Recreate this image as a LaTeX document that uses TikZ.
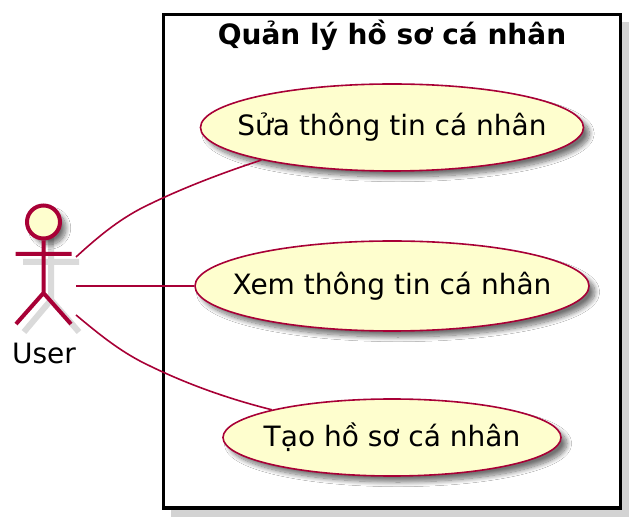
\documentclass[tikz,border=0pt]{standalone}
\usepackage{fontspec}
\setmainfont{DejaVu Sans}
\usetikzlibrary{shapes.geometric,shadows.blur}
\definecolor{umlred}{HTML}{A80036}
\definecolor{umlfill}{HTML}{FEFECE}
\definecolor{umlshadow}{HTML}{D3D3D3}
\newcommand{\casetext}[1]{\makebox[0pt]{\raisebox{2.2pt}{#1}}}
\tikzset{
  x=0.75pt,y=-0.75pt,
  softshadow/.style={blur shadow={shadow xshift=4.5pt,shadow yshift=-4.5pt,shadow blur radius=3.5pt,shadow blur steps=12,shadow opacity=55}},
  usecase/.style={ellipse,draw=umlred,line width=1.2pt,fill=umlfill,inner sep=0pt,font=\fontsize{21}{24}\selectfont,softshadow},
  link/.style={draw=umlred,line width=1.2pt},
  stick/.style={draw=umlred,line width=3pt},
  stickshadow/.style={draw=umlshadow!85!white,line width=4.5pt},
  boxframe/.style={draw=black,line width=2.3pt,fill=white},
  boxshadow/.style={fill=umlshadow,draw=none},
  lab/.style={font=\fontsize{21}{24}\selectfont,inner sep=0pt},
  titlelab/.style={font=\fontsize{21}{24}\selectfont\bfseries,inner sep=0pt},
}
\begin{document}
\begin{tikzpicture}
\useasboundingbox (0,0) rectangle (642,530);
\fill[white] (0,0) rectangle (642,530);
% system boundary
\fill[boxshadow] (171,22) rectangle (629,517);
\node[boxframe,minimum width=342.75pt,minimum height=370.1pt,inner sep=0pt] (frame) at (392,261.25) {};
\node[titlelab] (title) at (392,35) {Quản lý hồ sơ cá nhân};
% actor shadow
\draw[stickshadow] (23,262) -- (79,262) (51,238) -- (51,300) -- (24,332) (51,300) -- (79,332);
% actor
\node[circle,draw=umlred,line width=3pt,fill=umlfill,minimum size=24.75pt,inner sep=0pt,softshadow] (head) at (43.5,222) {};
\coordinate (hip) at (43.5,293);
\coordinate (handl) at (15.5,254);
\coordinate (handr) at (71.5,254);
\coordinate (footl) at (16,324);
\coordinate (footr) at (71,324);
\draw[stick] (head) -- (hip) (handl) -- (handr) (footl) -- (hip) -- (footr);
\node[lab] (user) at (44,353) {User};
% use cases
\node[usecase,minimum width=287.25pt,minimum height=65.25pt] (sua) at (392,127.5) {\casetext{Sửa thông tin cá nhân}};
\node[usecase,minimum width=295.5pt,minimum height=67.5pt] (xem) at (392,286) {\casetext{Xem thông tin cá nhân}};
\node[usecase,minimum width=253.5pt,minimum height=57.75pt] (tao) at (392,437.5) {\casetext{Tạo hồ sơ cá nhân}};
% connectors
\coordinate (a1) at (76,257);
\coordinate (a2) at (76,286);
\coordinate (a3) at (76,315);
\draw[link] (a1) .. controls (100,235) and (122,217) .. (150,204) .. controls (185,187) and (225,172) .. (sua.194);
\draw[link] (a2) -- (xem);
\draw[link] (a3) .. controls (100,335) and (122,353) .. (150,366) .. controls (185,383) and (225,398) .. (tao.167.7);
\end{tikzpicture}
\end{document}
